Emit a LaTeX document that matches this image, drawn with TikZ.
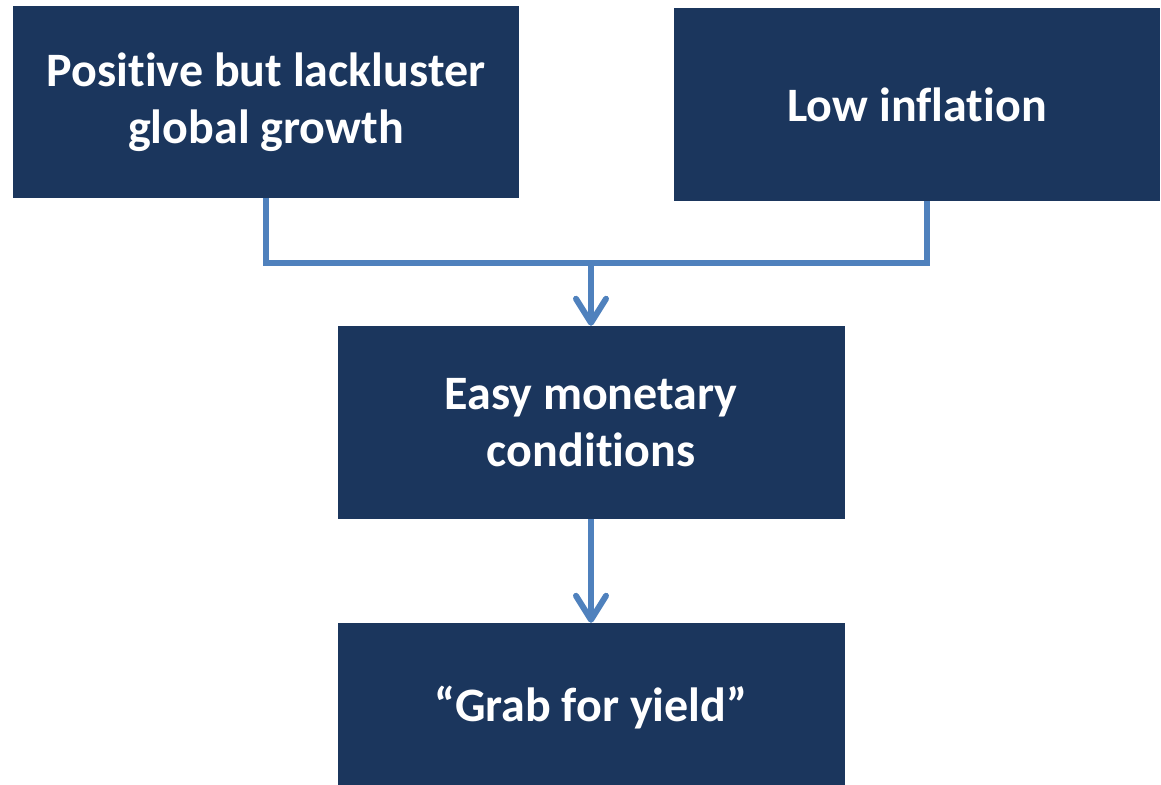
\documentclass[tikz,border=0pt]{standalone}
\usepackage{fontspec}
\setmainfont{Carlito}[Ligatures={NoCommon}]
\usepackage{xcolor}
\usepackage{tikz}
\usetikzlibrary{arrows.meta,positioning,calc}

\definecolor{navy}{RGB}{27,54,93}
\definecolor{linkblue}{RGB}{79,129,189}

\begin{document}
\begin{tikzpicture}[x=1pt,y=-1pt,
    box/.style={fill=navy, text=white, align=center, inner sep=0pt,
      font=\fontsize{48}{57}\selectfont\bfseries},
    link/.style={draw=linkblue, line width=6pt},
    arr/.style={link, -{Straight Barb[length=24pt,width=30pt,round]}}]
  \useasboundingbox (0,0) rectangle (1161,784);
  % top row
  \node[box, minimum width=506pt, minimum height=192pt] (growth) at (266,102)
    {Positive but lackluster\\global growth};
  \node[box, minimum width=486pt, minimum height=193pt] (inflation) at (917,104.5)
    {Low inflation};
  % middle and bottom
  \node[box, minimum width=507pt, minimum height=193pt] (easy) at (591,422.5)
    {Easy monetary\\conditions};
  \node[box, minimum width=507pt, minimum height=170pt] (grab) at (591,708)
    {“Grab for yield”};
  % connectors
  \coordinate (join) at (591,263);
  \coordinate (infl) at ($(inflation.south)+(10,0)$);
  \draw[link, line join=miter] (growth.south) |- (join) -| (infl);
  \draw[arr] (join) -- (easy.north);
  \draw[arr] (easy.south) -- (grab.north);
\end{tikzpicture}
\end{document}
